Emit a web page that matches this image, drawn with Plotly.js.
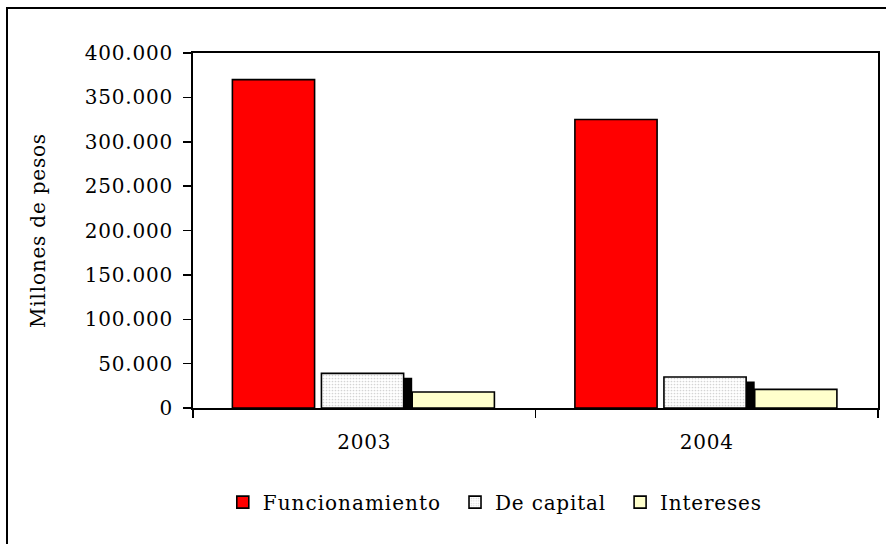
<!DOCTYPE html>
<html>
<head>
<meta charset="utf-8">
<script src="https://cdn.plot.ly/plotly-3.0.1.min.js"></script>
<style>
  html, body { margin: 0; padding: 0; background: #ffffff; }
  #wrap { position: relative; width: 886px; height: 544px; overflow: hidden; }
  #frame { position: absolute; left: 6px; top: 7px; width: 920px; height: 600px; border: 2px solid #000; box-sizing: border-box; }
  #chart { position: absolute; left: 0; top: 0; width: 886px; height: 544px; }
  text { letter-spacing: 0.8px; }
  text.legendtext { letter-spacing: 1px; }
</style>
</head>
<body>
<div id="wrap">
  <div id="frame"></div>
  <div id="chart"></div>
</div>
<script>
// Data
const years = ['2003', '2004'];
const seriesNames = ['Funcionamiento', 'De capital', 'Intereses'];
const funcionamiento = [370000, 325000];
const deCapital = [39000, 35000];
const intereses = [18000, 21000];
const yTicks = [0, 50000, 100000, 150000, 200000, 250000, 300000, 350000, 400000];

const FONT = '"DejaVu Serif", serif';
const barW = 0.24;
const lineStyle = { color: '#000000', width: 1.6 };

const traces = [
  {
    type: 'bar', name: seriesNames[0], x: years, y: funcionamiento,
    width: barW, offset: -0.385, legend: 'legend',
    marker: { color: '#FF0000', line: lineStyle }
  },
  {
    // drop shadow behind "De capital"
    type: 'bar', name: 'shadow', x: years, y: deCapital, base: -5000,
    width: barW, offset: -0.10, showlegend: false, hoverinfo: 'skip',
    marker: { color: '#000000', line: { width: 0 } }
  },
  {
    type: 'bar', name: seriesNames[1], x: years, y: deCapital,
    width: barW, offset: -0.125, legend: 'legend2',
    marker: {
      color: '#FFFFFF', line: lineStyle,
      pattern: { shape: '.', fgcolor: '#d4d4d4', bgcolor: '#FFFFFF', size: 3, solidity: 0.25 }
    }
  },
  {
    type: 'bar', name: seriesNames[2], x: years, y: intereses,
    width: barW, offset: 0.14, legend: 'legend3',
    marker: { color: '#FFFFCC', line: lineStyle }
  }
];

function legendAt(xp) {
  return {
    orientation: 'h', x: xp, xanchor: 'left', y: -0.265, yanchor: 'middle',
    font: { family: FONT, size: 20, color: '#000000' },
    bgcolor: 'rgba(0,0,0,0)', itemclick: false, itemdoubleclick: false
  };
}

const layout = {
  width: 886, height: 544,
  margin: { l: 193, r: 8, t: 53, b: 136 },
  paper_bgcolor: 'rgba(0,0,0,0)',
  plot_bgcolor: '#FFFFFF',
  barmode: 'overlay',
  separators: ',.',
  font: { family: FONT, size: 20, color: '#000000' },
  showlegend: true,
  legend: legendAt(0.0435),
  legend2: legendAt(0.3825),
  legend3: legendAt(0.6235),
  xaxis: {
    type: 'category', range: [-0.5, 1.5],
    showline: true, linecolor: '#000000', linewidth: 2, mirror: true,
    ticks: 'outside', tickson: 'boundaries', ticklen: 8, tickcolor: '#000000', tickwidth: 1.5,
    ticklabelstandoff: 15,
    showgrid: false, zeroline: false,
    tickfont: { family: FONT, size: 20, color: '#000000' }
  },
  yaxis: {
    range: [0, 400000], tickvals: yTicks, tickformat: ',d',
    showline: true, linecolor: '#000000', linewidth: 2, mirror: true,
    ticks: 'outside', ticklen: 8, tickcolor: '#000000', tickwidth: 1.5,
    ticklabelstandoff: 6,
    showgrid: false, zeroline: false,
    tickfont: { family: FONT, size: 20, color: '#000000' },
    title: { text: 'Millones de pesos', standoff: 34, font: { family: FONT, size: 20, color: '#000000' } }
  }
};

Plotly.newPlot('chart', traces, layout, { staticPlot: true, displayModeBar: false });
</script>
</body>
</html>
